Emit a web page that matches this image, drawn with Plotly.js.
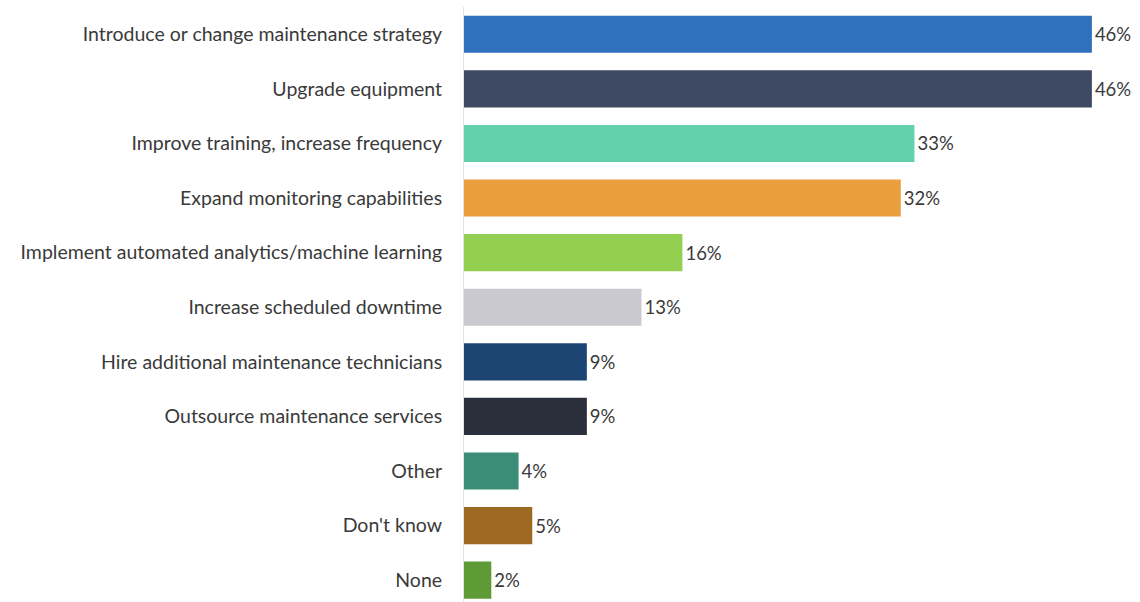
<!DOCTYPE html>
<html>
<head>
<meta charset="utf-8">
<script src="https://cdn.plot.ly/plotly-3.0.1.min.js"></script>
<style>html,body{margin:0;padding:0;background:#fff;}#chart{width:1140px;height:602px;}</style>
</head>
<body>
<div id="chart"></div>
<script>
var categories = [
  "Introduce or change maintenance strategy",
  "Upgrade equipment",
  "Improve training, increase frequency",
  "Expand monitoring capabilities",
  "Implement automated analytics/machine learning",
  "Increase scheduled downtime",
  "Hire additional maintenance technicians",
  "Outsource maintenance services",
  "Other",
  "Don't know",
  "None"
];
var values = [46, 46, 33, 32, 16, 13, 9, 9, 4, 5, 2];
var valueLabels = ["46%", "46%", "33%", "32%", "16%", "13%", "9%", "9%", "4%", "5%", "2%"];
var barColors = ["#2F71BC", "#3E4A63", "#62D0AA", "#E99F3D", "#93D052", "#C9C9CF", "#1D4574", "#2A2F3B", "#3C8D77", "#9D6923", "#5E9B36"];

var trace = {
  type: "bar",
  orientation: "h",
  y: categories,
  x: values,
  text: valueLabels,
  textposition: "outside",
  cliponaxis: false,
  textfont: {family: "Lato, 'Open Sans', sans-serif", size: 18.5, color: "#3a3a3a"},
  marker: {color: barColors, line: {width: 0}},
  hoverinfo: "none"
};

var layout = {
  width: 1140,
  height: 602,
  margin: {l: 464, r: 14, t: 7, b: 0, pad: 0},
  paper_bgcolor: "#ffffff",
  plot_bgcolor: "#ffffff",
  bargap: 0.32,
  showlegend: false,
  font: {family: "Lato, 'Open Sans', sans-serif", size: 19.5, color: "#3a3a3a"},
  xaxis: {
    range: [0, 48.5],
    showgrid: false,
    zeroline: false,
    showticklabels: false,
    showline: false,
    ticks: ""
  },
  yaxis: {
    type: "category",
    range: [10.4, -0.5],
    showgrid: false,
    zeroline: false,
    showline: true,
    linecolor: "#e3e3e3",
    linewidth: 1,
    ticks: "",
    ticklabelstandoff: 17,
    tickfont: {family: "Lato, 'Open Sans', sans-serif", size: 19.5, color: "#3a3a3a"}
  }
};

Plotly.newPlot("chart", [trace], layout, {staticPlot: true, displayModeBar: false});
</script>
</body>
</html>
